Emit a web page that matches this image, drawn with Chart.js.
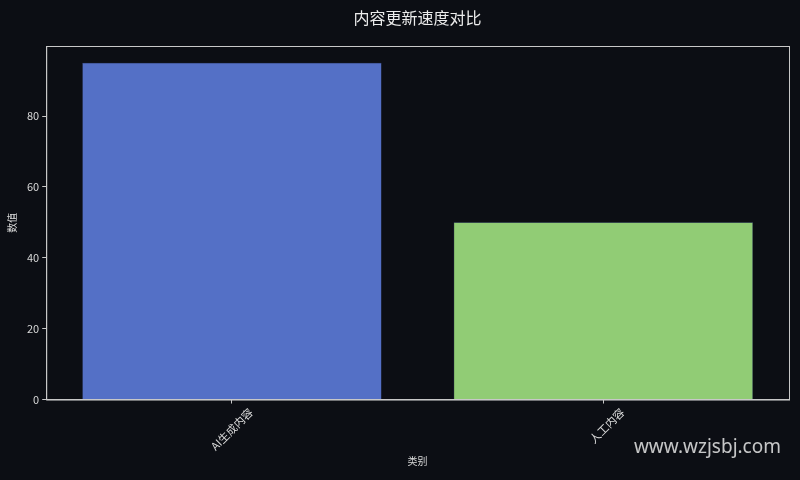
<!DOCTYPE html>
<html>
<head>
<meta charset="utf-8">
<script src="https://cdn.jsdelivr.net/npm/chart.js@4/dist/chart.umd.min.js"></script>
<style>
  html, body { margin: 0; padding: 0; background: #0c0e14; }
  #wrap { width: 800px; height: 480px; }
</style>
</head>
<body>
<div id="wrap"><canvas id="visualChart"></canvas></div>
<script>
const categories = ["AI生成内容", "人工内容"];
const values = [95, 50];
const barColors = ["#5470c6", "#91cc75"];
const yTicks = [0, 20, 40, 60, 80];
const chartTitle = '内容更新速度对比';

const fontFamily = "'Noto Sans CJK SC', 'DejaVu Sans', sans-serif";
const textColor = '#d8d8d8';

// frame round the plot area, title centred over it, and the watermark
const framePlugin = {
    id: 'frame',
    afterDraw(chart) {
        const { ctx, chartArea } = chart;
        ctx.save();
        ctx.strokeStyle = '#c8c8c8';
        ctx.lineWidth = 1;
        ctx.strokeRect(chartArea.left + 0.5, chartArea.top + 0.5,
            chartArea.right - chartArea.left, chartArea.bottom - chartArea.top);

        ctx.font = "16px " + fontFamily;
        ctx.fillStyle = '#ececec';
        ctx.textAlign = 'center';
        ctx.textBaseline = 'middle';
        ctx.fillText(chartTitle, (chartArea.left + chartArea.right) / 2, 18);

        ctx.font = "19px 'Noto Sans', 'DejaVu Sans', sans-serif";
        ctx.fillStyle = 'rgba(230,230,230,0.85)';
        ctx.textAlign = 'right';
        ctx.fillText('www.wzjsbj.com', 781, 448);
        ctx.restore();
    }
};

const chartBlock = document.querySelector('#visualChart').getContext('2d');

const chart = new Chart(chartBlock, {
    type: 'bar',
    data: {
        labels: categories,
        datasets: [{
            label: '数值',
            data: values,
            backgroundColor: barColors,
            borderColor: '#3a4a80',
            borderWidth: 0.5,
            barPercentage: 0.806,
            categoryPercentage: 1.0
        }]
    },
    options: {
        responsive: true,
        maintainAspectRatio: false,
        animation: false,
        layout: { padding: { top: 46, right: 11, left: 6, bottom: 13 } },
        plugins: {
            legend: { display: false },
            tooltip: { enabled: false },
            title: { display: false }
        },
        scales: {
            x: {
                grid: { display: true, drawOnChartArea: false, offset: false, color: '#c8c8c8', tickLength: 4 },
                border: { display: true, color: '#c8c8c8' },
                ticks: {
                    color: textColor,
                    font: { family: fontFamily, size: 11 },
                    minRotation: 45,
                    maxRotation: 45,
                    labelOffset: 19,
                    padding: 2
                },
                title: {
                    display: true,
                    text: '类别',
                    color: textColor,
                    font: { family: fontFamily, size: 10 },
                    padding: { top: 0, bottom: 0 }
                }
            },
            y: {
                min: 0,
                max: 99.75,
                afterBuildTicks(scale) {
                    scale.ticks = yTicks.map(v => ({ value: v }));
                },
                grid: { display: true, drawOnChartArea: false, color: '#c8c8c8', tickLength: 4 },
                border: { display: true, color: '#c8c8c8' },
                ticks: {
                    color: textColor,
                    font: { family: fontFamily, size: 11 },
                    padding: 3
                },
                title: {
                    display: true,
                    text: '数值',
                    color: textColor,
                    font: { family: fontFamily, size: 10 },
                    padding: { top: 0, bottom: 6 }
                }
            }
        }
    },
    plugins: [framePlugin]
});
</script>
</body>
</html>
